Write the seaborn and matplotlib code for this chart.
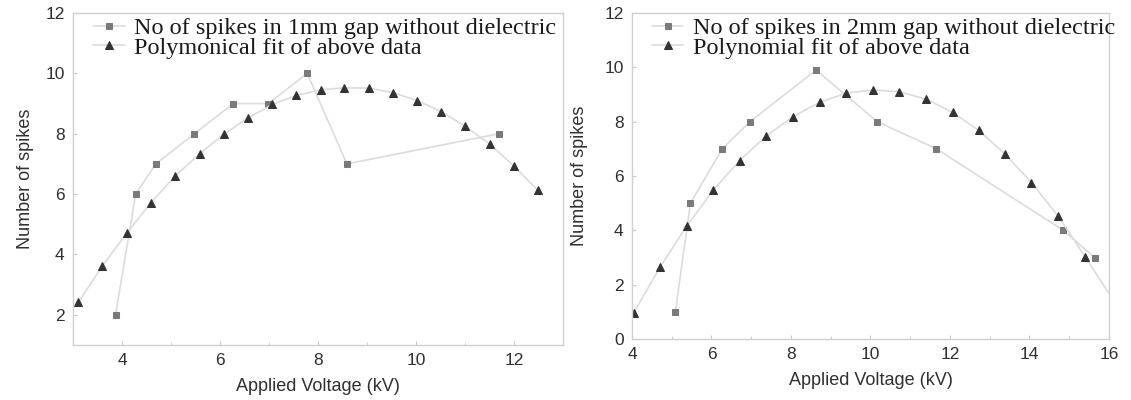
import numpy as np
import pandas as pd
import seaborn as sns
import matplotlib
from matplotlib import pyplot as plt

sns.set_style('ticks')
matplotlib.rcParams['font.family'] = ['Liberation Sans', 'DejaVu Sans']

# 1mm gap
v1_meas = [3.87, 4.28, 4.69, 5.48, 6.27, 6.99, 7.78, 8.59, 11.69]
n1_meas = [2, 6, 7, 8, 9, 9, 10, 7, 8]
v1_fit = [3.11, 3.60, 4.10, 4.59, 5.08, 5.59, 6.08, 6.57, 7.07, 7.56,
          8.06, 8.54, 9.04, 9.53, 10.03, 10.52, 11.01, 11.50, 12.00, 12.49]
n1_fit = [2.41, 3.62, 4.71, 5.71, 6.59, 7.34, 7.99, 8.52, 8.97, 9.27,
          9.46, 9.52, 9.51, 9.36, 9.10, 8.73, 8.24, 7.66, 6.93, 6.12]

# 2mm gap
v2_meas = [5.09, 5.47, 6.27, 6.97, 8.63, 10.17, 11.66, 14.85, 15.64]
n2_meas = [1, 5, 7, 8, 9.9, 8, 7, 4, 3]
v2_fit = [4.04, 4.71, 5.38, 6.05, 6.71, 7.38, 8.06, 8.72, 9.39, 10.06,
          10.73, 11.40, 12.07, 12.72, 13.38, 14.05, 14.73, 15.40, 16.0]
n2_fit = [0.95, 2.66, 4.16, 5.49, 6.57, 7.48, 8.19, 8.71, 9.05, 9.17,
          9.10, 8.83, 8.34, 7.68, 6.82, 5.76, 4.51, 3.03, 1.68]

lab_meas = ['No of spikes in 1mm gap without dielectric',
            'No of spikes in 2mm gap without dielectric']
lab_fit = ['Polymonical fit of above data', 'Polynomial fit of above data']

fig = plt.figure(figsize=(11.31, 4), dpi=100)
ax1 = fig.add_axes([0.0645, 0.1375, 0.4333, 0.83])
ax2 = fig.add_axes([0.5588, 0.1525, 0.4217, 0.815])

line_c = '#dcdcdc'
sq_c = '#7a7a7a'
tri_c = '#333333'

panels = [
    (ax1, v1_meas, n1_meas, v1_fit, n1_fit, lab_meas[0], lab_fit[0], (3, 13), (1, 12), [4, 6, 8, 10, 12], [2, 4, 6, 8, 10, 12], False, 8),
    (ax2, v2_meas, n2_meas, v2_fit, n2_fit, lab_meas[1], lab_fit[1], (4, 16), (0, 12), [4, 6, 8, 10, 12, 14, 16], [0, 2, 4, 6, 8, 10, 12], True, 12),
]

for ax, vm, nm, vf, nf, lm, lf, xl, yl, xt, yt, last_hidden, ypad in panels:
    dm = pd.DataFrame({'v': vm, 'n': nm})
    dfit = pd.DataFrame({'v': vf, 'n': nf})
    sns.lineplot(data=dm, x='v', y='n', ax=ax, color=line_c, lw=1.2,
                 marker='s', markersize=3.8, markerfacecolor=sq_c,
                 markeredgecolor=sq_c, label=lm, sort=False)
    mk = list(range(len(vf) - 1)) if last_hidden else list(range(len(vf)))
    sns.lineplot(data=dfit, x='v', y='n', ax=ax, color=line_c, lw=1.2,
                 marker='^', markersize=5.8, markerfacecolor=tri_c,
                 markeredgecolor=tri_c, markevery=mk, label=lf, sort=False)
    ax.set_xlim(*xl)
    ax.set_ylim(*yl)
    ax.set_xticks(xt)
    ax.set_yticks(yt)
    ax.set_xticks(np.arange(xl[0] + 1 if xl[0] % 2 == 0 else xl[0], xl[1] + 0.1, 2), minor=True)
    for s in ax.spines.values():
        s.set_color('#d0d0d0')
        s.set_linewidth(1.0)
    ax.tick_params(direction='in', length=3, color='#c8c8c8', labelsize=12.5,
                   labelcolor='#303030', pad=6)
    ax.tick_params(which='minor', direction='in', length=2, color='#c8c8c8')
    ax.set_xlabel('Applied Voltage (kV)', fontsize=13, color='#303030', labelpad=7)
    ax.set_ylabel('Number of spikes', fontsize=13, color='#303030', labelpad=ypad)
    leg = ax.legend(loc='upper left', bbox_to_anchor=(0.021, 1.017), frameon=False,
                    prop={'family': 'Liberation Serif', 'size': 17.5},
                    labelspacing=-0.1, handlelength=1.3, handletextpad=0.4,
                    borderaxespad=0.0)
    for t in leg.get_texts():
        t.set_color('#1a1a1a')

fig.savefig('out.png', dpi=100)
